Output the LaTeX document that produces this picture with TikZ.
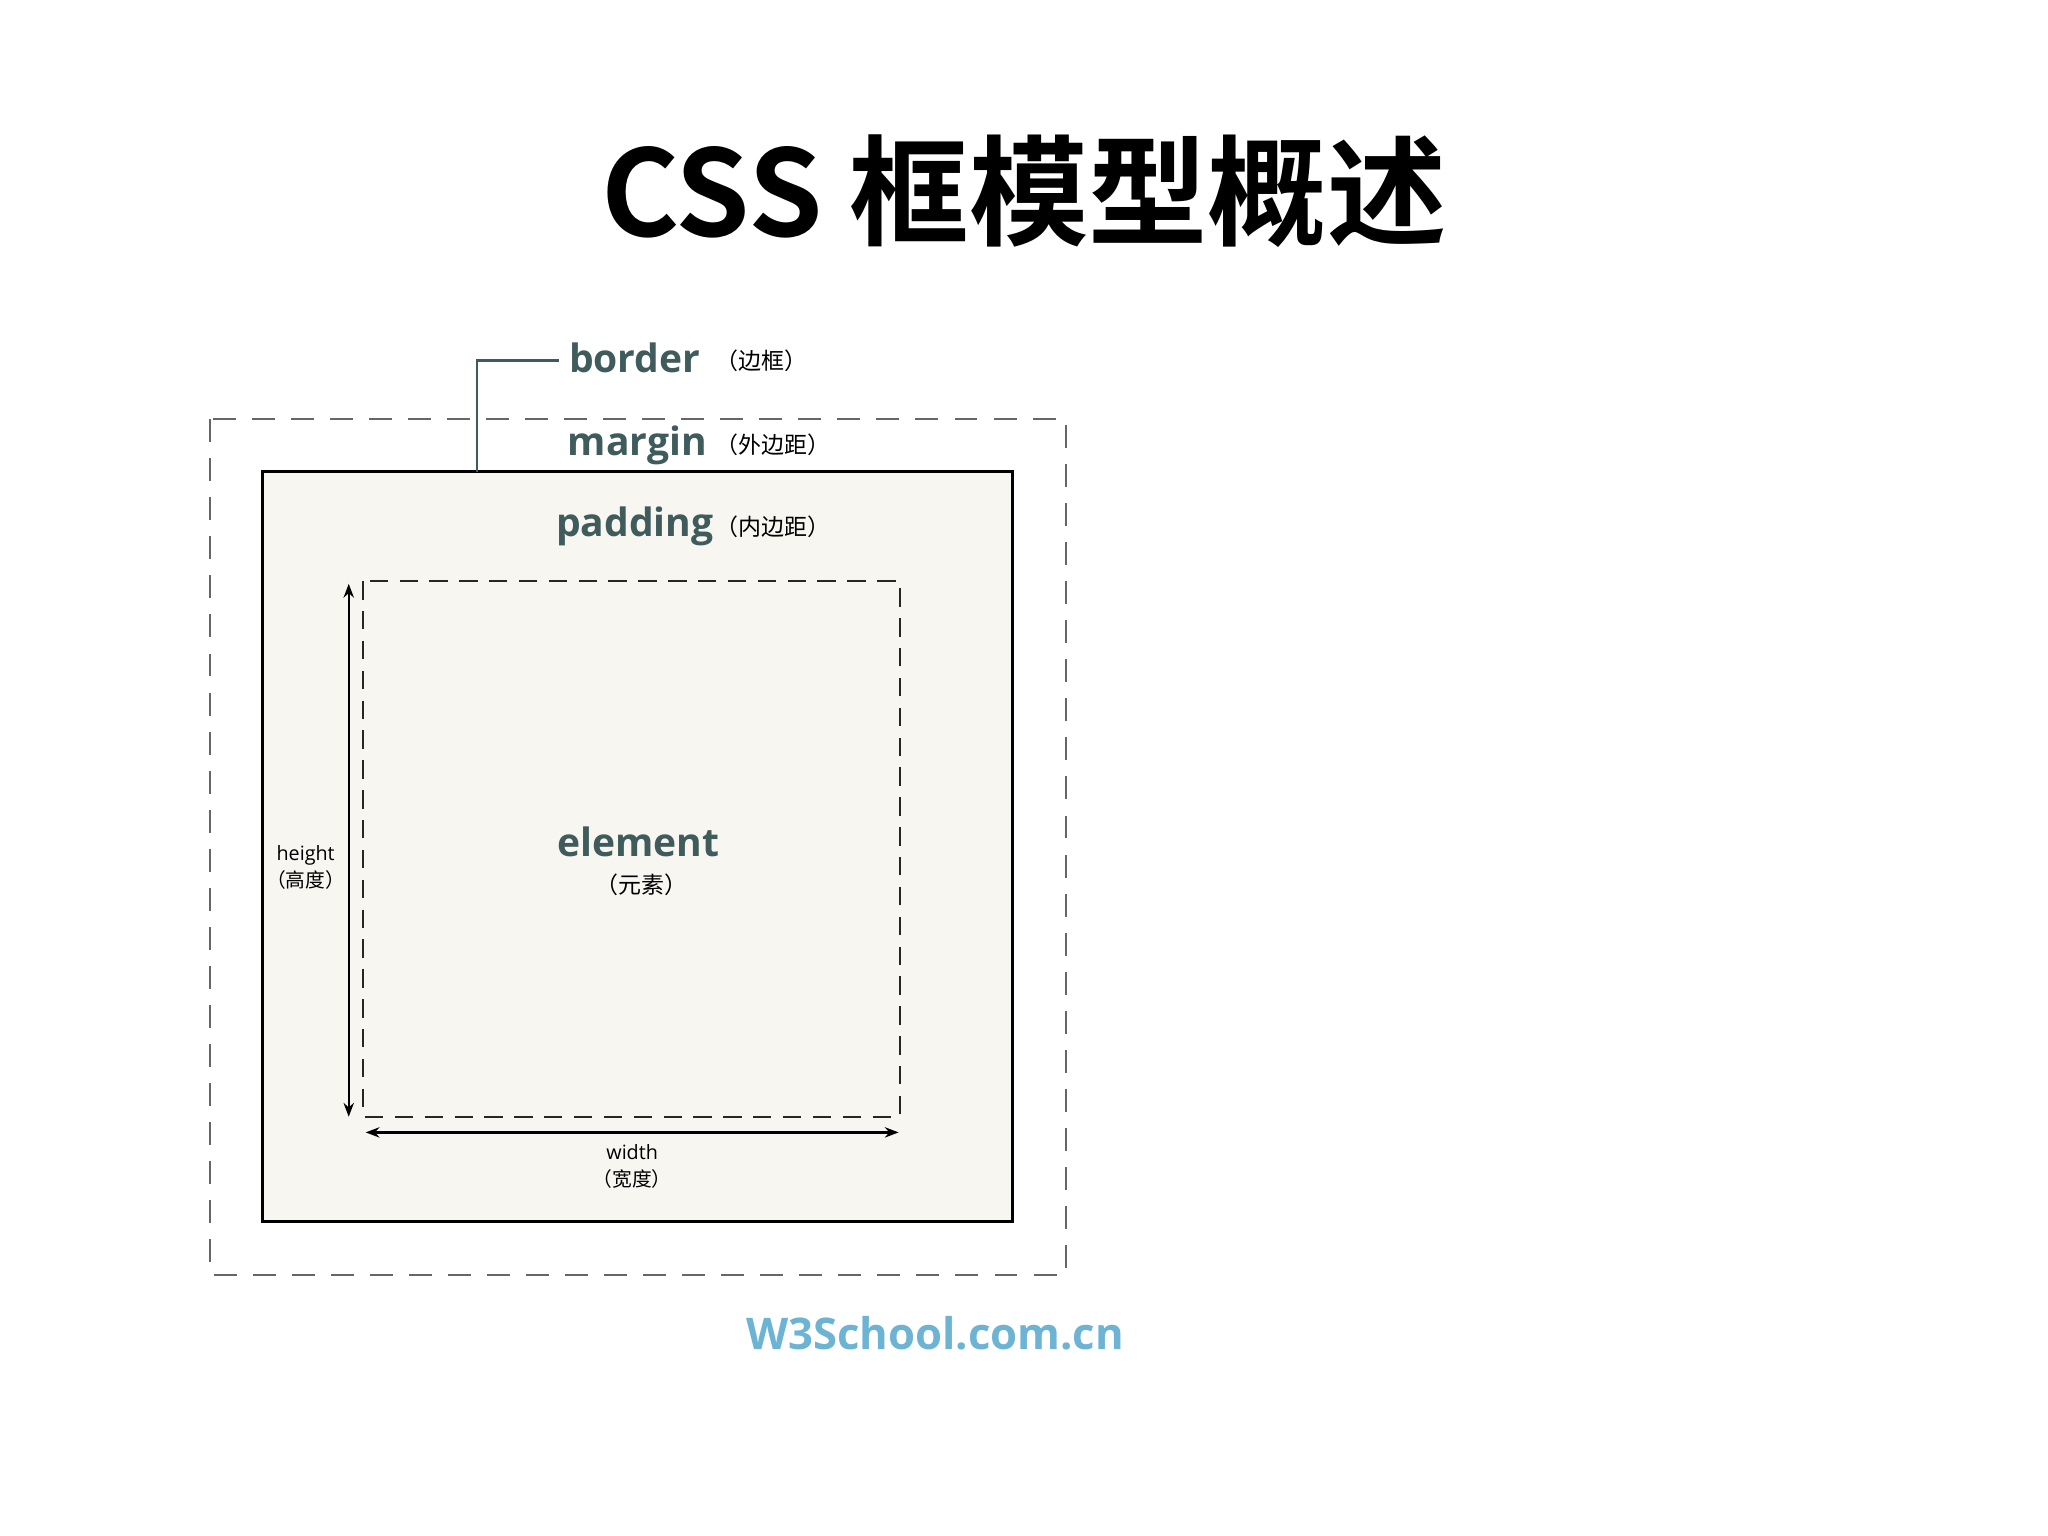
\documentclass[tikz,border=0pt]{standalone}
\usetikzlibrary{arrows.meta}
\usepackage{fontspec}
\setmainfont{Open Sans}
\newfontfamily\cjk{Noto Sans CJK SC}
\newfontfamily\cjkb{Noto Sans CJK SC Bold}
\definecolor{lab}{HTML}{3F5B5C}
\definecolor{boxfill}{HTML}{F7F6F0}
\definecolor{w3}{HTML}{6DB3D3}
\begin{document}
\begin{tikzpicture}[x=0.01cm,y=-0.01cm,
  big/.style={text=lab,font=\fontsize{8.5}{10}\selectfont\bfseries,inner sep=0,anchor=base west},
  small/.style={font=\cjk\fontsize{5}{6}\selectfont,inner sep=0,anchor=base west},
  dim/.style={font=\fontsize{4.3}{5}\selectfont,inner sep=0,align=center},
  dash1/.style={draw=black!60,dash pattern=on 5pt off 3.5pt,line width=0.5pt},
  dash2/.style={draw=black!85,dash pattern=on 4pt off 2.5pt,line width=0.5pt},
  dimline/.style={{Stealth[length=3pt]}-{Stealth[length=3pt]},line width=0.5pt}]
\useasboundingbox (0,0) rectangle (1568,1176);
\node (title) at (784,146) {\cjkb\fontsize{26}{30}\selectfont CSS 框模型概述};
\draw[dash1] (161,321) rectangle (816,976);
\draw[fill=boxfill,line width=0.6pt] (201,361) rectangle (775,935);
\coordinate (bc) at (365,361);
\draw[dash2] (278,445) rectangle (689,855);
\draw[lab,line width=0.5pt] (bc) |- (428,276) coordinate (bl);
\node[big] (border) at (435,285) {border};
\node[small] (borderc) at (547,283) {（边框）};
\node[big] (margin) at (434,349) {margin};
\node[small] (marginc) at (547,347) {（外边距）};
\node[big] (padding) at (425,411) {padding};
\node[small] (paddingc) at (547,410) {（内边距）};
\node[big] (element) at (426,656) {element};
\node[small] (elementc) at (455,684) {（元素）};
\coordinate (h1) at (267,447); \coordinate (h2) at (267,855);
\draw[dimline] (h1) -- (h2);
\coordinate (w1) at (280,867); \coordinate (w2) at (688,867);
\draw[dimline] (w1) -- (w2);
\node[dim] (hl) at (234,664) {height\\[1pt]{\cjk（高度）}};
\node[dim] (wl) at (484,893) {width\\[1pt]{\cjk（宽度）}};
\node (w3s) at (716,1021) {\fontsize{9.5}{11}\selectfont\bfseries\color{w3} W3School.com.cn};
\end{tikzpicture}
\end{document}
